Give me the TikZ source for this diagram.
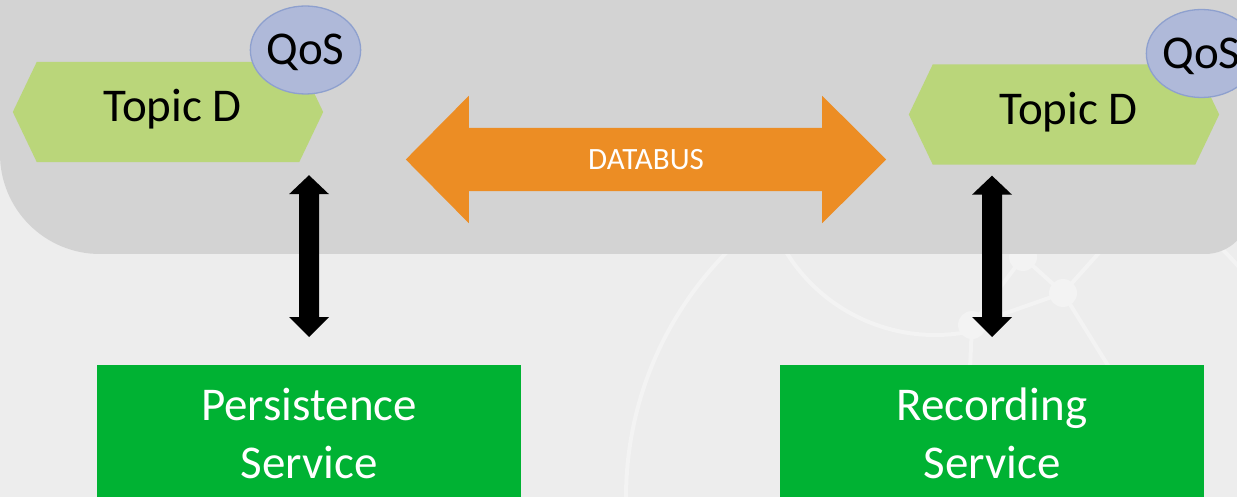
\documentclass[tikz,border=0pt]{standalone}
\usepackage{fontspec}
\setmainfont{Carlito}
\usetikzlibrary{shapes.geometric,calc}

\definecolor{pagebg}{HTML}{EDEDED}
\definecolor{panelgray}{HTML}{D3D3D3}
\definecolor{markline}{HTML}{F3F3F3}
\definecolor{topicgreen}{HTML}{BAD67A}
\definecolor{qosfill}{HTML}{AFB9D9}
\definecolor{qosline}{HTML}{8EA0CE}
\definecolor{busorange}{HTML}{EC8D24}
\definecolor{svcgreen}{HTML}{00B233}

\pgfdeclarelayer{back}
\pgfsetlayers{back,main}

% filled vertical double arrow between two points
\newcommand\dblarrowfill[2]{%
  \fill (#1) -- ($(#1)+(20,19)$) -- ($(#1)+(10,19)$) -- ($(#2)+(10,-20)$)
    -- ($(#2)+(20,-20)$) -- (#2) -- ($(#2)+(-20,-20)$) -- ($(#2)+(-10,-20)$)
    -- ($(#1)+(-10,19)$) -- ($(#1)+(-20,19)$) -- cycle;}

\begin{document}
\begin{tikzpicture}[x=1pt,y=-1pt,
  topicbox/.style={rectangle, minimum width=310pt, minimum height=100pt,
    inner sep=0pt, font=\fontsize{47}{56}\selectfont,
    text height=30pt, text depth=10pt},
  qosbubble/.style={ellipse, fill=qosfill, draw=qosline, line width=1.3pt,
    minimum width=99pt, minimum height=88pt, inner sep=0pt,
    font=\fontsize{47}{56}\selectfont, text height=30pt, text depth=-5pt},
  busarrow/.style={rectangle, minimum width=480pt, minimum height=127pt,
    inner sep=0pt, text=white, font=\fontsize{31}{36}\selectfont,
    text height=20pt, text depth=-3pt},
  svcbox/.style={rectangle, fill=svcgreen, text=white, anchor=north,
    minimum width=424pt, minimum height=137pt, inner sep=0pt, align=center,
    font=\fontsize{47}{58}\selectfont},
  embline/.style={draw=markline, line width=4pt},
  embdot/.style={fill=markline}
]
\useasboundingbox (0,0) rectangle (1237,497);

% topics, QoS bubbles and the bus
\node[topicbox] (topicL) at (168,112) {\hspace*{9pt}Topic D};
\node[topicbox] (topicR) at (1064,114.5) {\hspace*{9pt}Topic D};
\node[qosbubble] (qosL) at (305.5,50) {QoS};
\node[qosbubble] (qosR) at (1201.5,53.5) {QoS};
\node[busarrow] (bus) at (646,159.5) {DATABUS};

% services
\node[svcbox] (pbox) at (309,365) {Persistence\\Service};
\node[svcbox] (rbox) at (992,365) {Recording\\Service};

% links between topics and services
\coordinate (lt) at ($(pbox.north |- topicL.south)+(0,13)$);
\coordinate (lb) at ($(pbox.north)+(0,-28)$);
\coordinate (rt) at ($(rbox.north |- topicR.south)+(0,11)$);
\coordinate (rb) at ($(rbox.north)+(0,-28)$);
\dblarrowfill{lt}{lb}
\dblarrowfill{rt}{rb}

\begin{pgfonlayer}{back}
  % page
  \fill[pagebg] (-5,-5) rectangle (1242,502);

  % faint network emblem
  \draw[embline] (976,498) circle[radius=350];
  \draw[embline] (935,160) ++(148.5:175) arc[start angle=148.5, end angle=77, radius=175];
  \coordinate (wa) at (972,325);
  \coordinate (wb) at (1063,293);
  \coordinate (wc) at (1023,257);
  \draw[embline] (wa) -- (wb) -- (wc) -- cycle;
  \draw[embline] (wb) -- (1115,235);
  \draw[embline] (wb) -- (1122,388);
  \draw[embline] (wa) -- (969,390);
  \fill[embdot] (wa) circle[radius=14];
  \fill[embdot] (wb) circle[radius=14];
  \fill[embdot] (wc) circle[radius=14];

  % grey panel
  \fill[panelgray] (0,-5) -- (1250,-5) -- (1250,209)
    arc[start angle=0, end angle=90, radius=45] -- (100,254)
    arc[start angle=90, end angle=180, radius=100] -- cycle;

  % hexagonal topic shapes
  \foreach \t in {topicL,topicR}{
    \fill[topicgreen] (\t.west) -- ($(\t.north west)+(24,0)$)
      -- ($(\t.north east)+(-24,0)$) -- (\t.east)
      -- ($(\t.south east)+(-24,0)$) -- ($(\t.south west)+(24,0)$) -- cycle;
  }

  % databus double arrow
  \fill[busorange] (bus.west) -- ($(bus.north west)+(63,0)$)
    -- ($(bus.north west)+(63,32)$) -- ($(bus.north east)+(-64,32)$)
    -- ($(bus.north east)+(-64,0)$) -- (bus.east)
    -- ($(bus.south east)+(-64,0)$) -- ($(bus.south east)+(-64,-32)$)
    -- ($(bus.south west)+(63,-32)$) -- ($(bus.south west)+(63,0)$) -- cycle;
\end{pgfonlayer}
\end{tikzpicture}
\end{document}
